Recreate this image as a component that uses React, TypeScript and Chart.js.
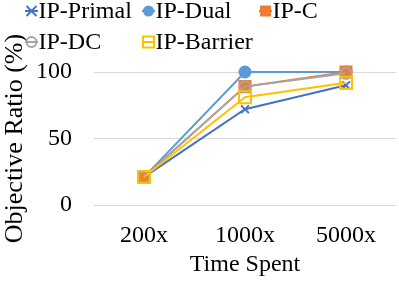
import React, { useEffect, useRef } from "react";
import { Chart, registerables } from "chart.js";

Chart.register(...registerables);

const categories = ["200x", "1000x", "5000x"];
const seriesNames = ["IP-Primal", "IP-Dual", "IP-C", "IP-DC", "IP-Barrier"];
const primal = [21, 72, 90];
const dual = [21, 100, 100];
const ipC = [21, 89, 100];
const ipDC = [21, 89, 99];
const barrier = [21, 81, 92];
const yTicks = [0, 50, 100];
const xTitle = "Time Spent";
const yTitle = "Objective Ratio (%)";

const FONT = '"Liberation Serif"';

type MarkerKind = "x" | "dot" | "square" | "ring" | "box";

const seriesStyles: { color: string; marker: MarkerKind }[] = [
  { color: "#4472C4", marker: "x" },
  { color: "#5B9BD5", marker: "dot" },
  { color: "#ED7D31", marker: "square" },
  { color: "#A5A5A5", marker: "ring" },
  { color: "#FFC000", marker: "box" },
];

function drawMarker(ctx: CanvasRenderingContext2D, kind: MarkerKind, color: string, x: number, y: number) {
  ctx.save();
  ctx.strokeStyle = color;
  ctx.fillStyle = color;
  ctx.lineWidth = 2;
  if (kind === "x") {
    const s = 5;
    ctx.beginPath();
    ctx.moveTo(x - s, y - s);
    ctx.lineTo(x + s, y + s);
    ctx.moveTo(x + s, y - s);
    ctx.lineTo(x - s, y + s);
    ctx.stroke();
  } else if (kind === "dot") {
    ctx.beginPath();
    ctx.arc(x, y, 5.5, 0, Math.PI * 2);
    ctx.fill();
  } else if (kind === "square") {
    ctx.fillRect(x - 5.5, y - 5.5, 11, 11);
  } else if (kind === "ring") {
    ctx.beginPath();
    ctx.arc(x, y, 5, 0, Math.PI * 2);
    ctx.stroke();
  } else {
    ctx.strokeRect(x - 5.5, y - 5.5, 11, 11);
  }
  ctx.restore();
}

const legendPlugin = {
  id: "gridLegend",
  afterDraw(chart: any) {
    const ctx: CanvasRenderingContext2D = chart.ctx;
    const cols = [25, 142, 259];
    const baselines = [17.5, 48.5];
    seriesNames.forEach((name, i) => {
      const st = seriesStyles[i];
      const x = cols[i % 3];
      const base = baselines[Math.floor(i / 3)];
      const my = base - 6.5;
      ctx.save();
      ctx.strokeStyle = st.color;
      ctx.lineWidth = 2;
      ctx.beginPath();
      ctx.moveTo(x, my);
      ctx.lineTo(x + 13, my);
      ctx.stroke();
      ctx.restore();
      drawMarker(ctx, st.marker, st.color, x + 6.5, my);
      ctx.save();
      ctx.fillStyle = "#000";
      ctx.font = `24px ${FONT}`;
      ctx.textBaseline = "alphabetic";
      ctx.textAlign = "left";
      ctx.fillText(name, x + 13.5, base);
      ctx.restore();
    });
  },
};

export default function App() {
  const ref = useRef<HTMLCanvasElement | null>(null);

  useEffect(() => {
    if (!ref.current) return;
    const values = [primal, dual, ipC, ipDC, barrier];
    const pointStyles: any[] = ["crossRot", "circle", "rect", "circle", "rect"];
    const radii = [5.5, 5.5, 7.8, 5.5, 8.5];
    const fills = ["#4472C4", "#5B9BD5", "#ED7D31", "rgba(0,0,0,0)", "rgba(0,0,0,0)"];
    const chart = new Chart(ref.current, {
      type: "line",
      data: {
        labels: categories,
        datasets: seriesNames.map((name, i) => ({
          label: name,
          data: values[i],
          borderColor: seriesStyles[i].color,
          backgroundColor: fills[i],
          borderWidth: 2,
          pointStyle: pointStyles[i],
          pointRadius: radii[i],
          pointBorderWidth: 2,
          pointBorderColor: seriesStyles[i].color,
          pointBackgroundColor: fills[i],
          fill: false,
          tension: 0,
          clip: false as any,
          order: seriesNames.length - i,
        })),
      },
      options: {
        responsive: false,
        animation: false,
        devicePixelRatio: 1,
        layout: { autoPadding: false, padding: { top: 72, left: 0, right: 2.5, bottom: 0 } },
        plugins: {
          legend: { display: false },
          tooltip: { enabled: false },
        },
        scales: {
          x: {
            offset: true,
            grid: { display: false, drawTicks: false },
            border: { display: false },
            ticks: { color: "#000", font: { family: FONT, size: 24 }, padding: 16.6, maxRotation: 0 },
            title: {
              display: true,
              text: xTitle,
              color: "#000",
              font: { family: FONT, size: 24 },
              padding: { top: 0, bottom: 2.6 },
            },
            afterFit: (axis: any) => {
              axis.height = 77;
              axis.paddingLeft = 0;
              axis.paddingRight = 0;
            },
          },
          y: {
            min: 0,
            max: 100,
            afterBuildTicks: (axis: any) => {
              axis.ticks = yTicks.map((v) => ({ value: v }));
            },
            grid: { color: "#D9D9D9", lineWidth: 1, drawTicks: false },
            border: { display: false },
            ticks: { color: "#000", font: { family: FONT, size: 24 }, padding: 21.5 },
            title: {
              display: true,
              text: yTitle,
              color: "#000",
              font: { family: FONT, size: 26 },
              padding: { top: 0, bottom: 0 },
            },
            afterFit: (axis: any) => {
              axis.width = 93.5;
            },
          },
        },
      },
      plugins: [legendPlugin],
    });
    return () => chart.destroy();
  }, []);

  return (
    <div style={{ position: "absolute", left: 0, top: 0, width: 399, height: 282 }}>
      <canvas ref={ref} width={399} height={282} style={{ width: 399, height: 282, display: "block" }} />
    </div>
  );
}
